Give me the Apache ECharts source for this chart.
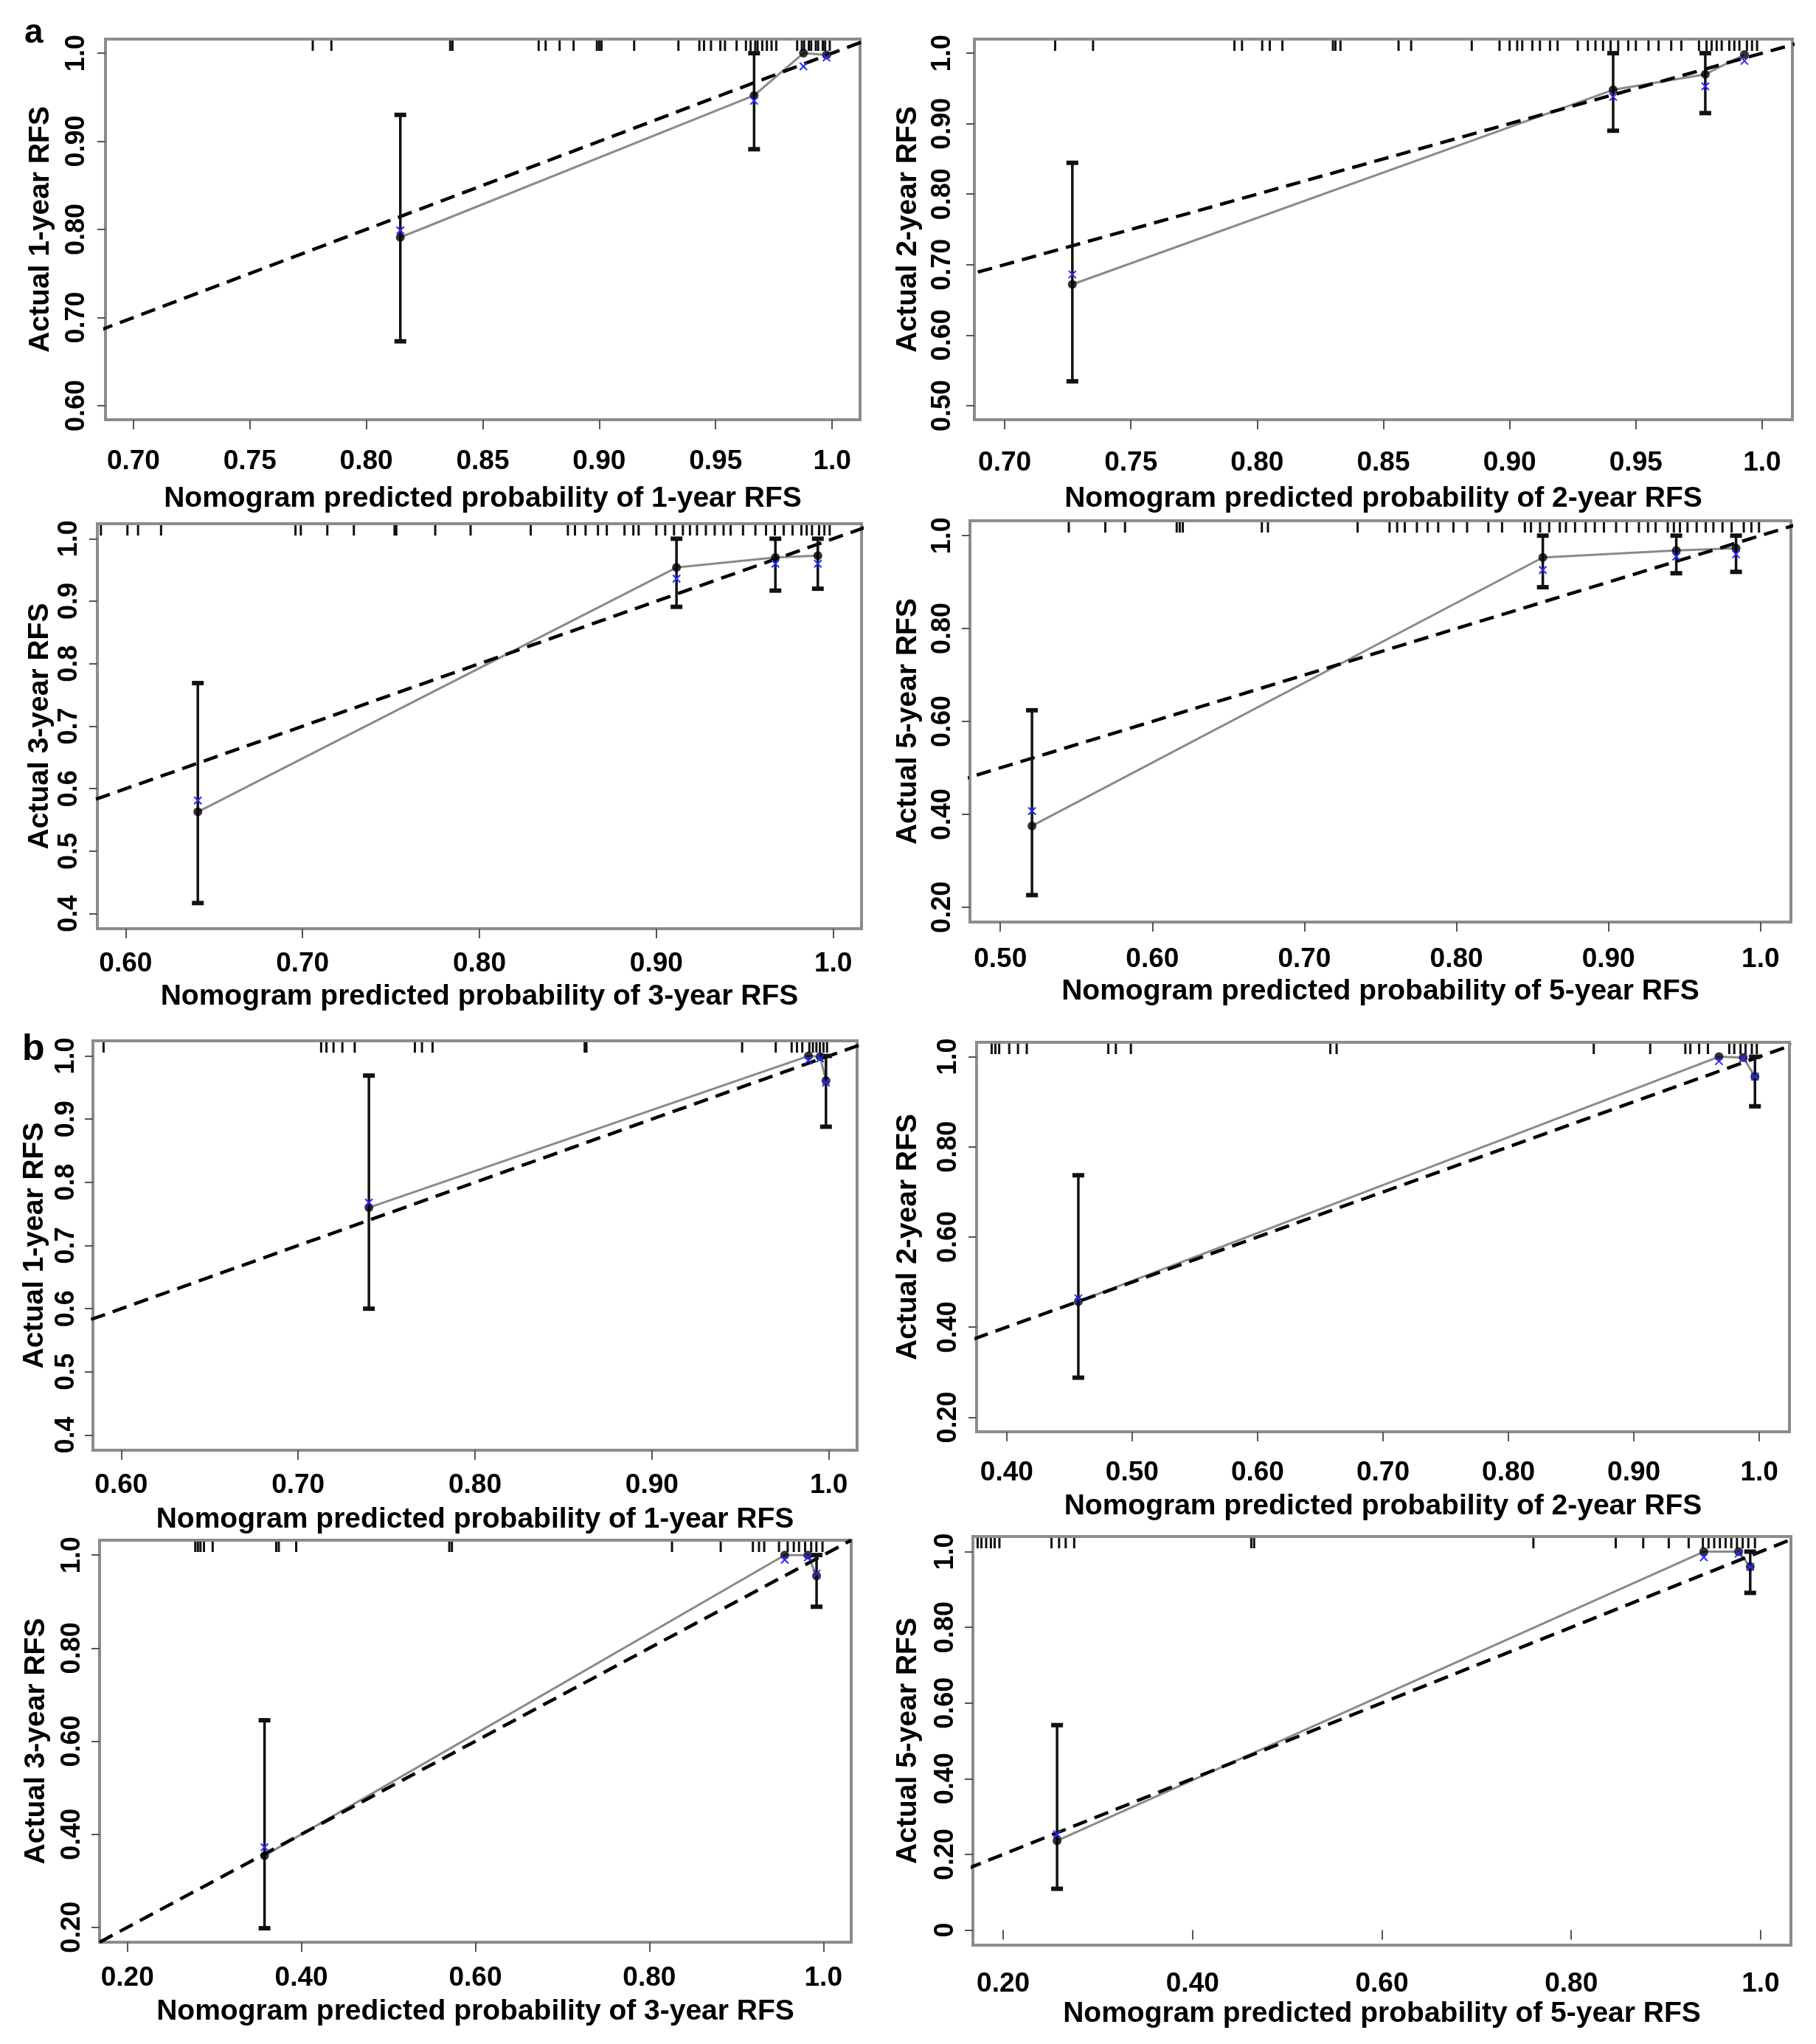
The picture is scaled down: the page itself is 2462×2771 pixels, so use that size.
<!DOCTYPE html>
<html><head><meta charset="utf-8">
<script src="https://cdn.jsdelivr.net/npm/echarts@6/dist/echarts.min.js"></script>
<style>html,body{margin:0;padding:0;background:#fff}#c{width:2462px;height:2771px}</style>
</head><body><div id="c"></div>
<script>
// ---------- DATA ----------
// Panel a1: 1-year RFS (cohort a)
const a1_pred = [0.8146, 0.9665, 0.9877, 0.9976];
const a1_obs  = [0.791, 0.952, 1.000, 0.998];
const a1_lo   = [0.673, 0.891, 1.000, 0.998];
const a1_hi   = [0.930, 1.000, 1.000, 0.998];
const a1_corr = [0.799, 0.946, 0.985, 0.995];
const a1_rug  = [0.777,0.785,0.836,0.837,0.874,0.877,0.883,0.889,0.899,0.900,0.901,0.915,0.934,0.943,0.945,0.948,0.952,0.954,0.959,0.963,0.965,0.967,0.968,0.970,0.972,0.974,0.976,0.985,0.987,0.988,0.990,0.991,0.993,0.994,0.996,0.997,0.999];
const a1_xticks = ["0.70","0.75","0.80","0.85","0.90","0.95","1.0"];
const a1_yticks = ["0.60","0.70","0.80","0.90","1.0"];
const a1_xlim = [0.7, 1.0], a1_ylim = [0.6, 1.0];

// Panel a2: 2-year RFS (cohort a)
const a2_pred = [0.7268, 0.9410, 0.9775, 0.9930];
const a2_obs  = [0.672, 0.948, 0.970, 0.998];
const a2_lo   = [0.5345, 0.890, 0.915, 0.998];
const a2_hi   = [0.8445, 1.000, 1.000, 0.998];
const a2_corr = [0.686, 0.938, 0.953, 0.989];
const a2_rug  = [0.720,0.735,0.791,0.794,0.802,0.805,0.810,0.830,0.831,0.833,0.856,0.861,0.885,0.896,0.900,0.903,0.905,0.909,0.912,0.916,0.919,0.927,0.931,0.934,0.937,0.940,0.943,0.947,0.950,0.955,0.959,0.964,0.968,0.975,0.978,0.980,0.982,0.984,0.987,0.989,0.991,0.994,0.996,0.998];
const a2_xticks = ["0.70","0.75","0.80","0.85","0.90","0.95","1.0"];
const a2_yticks = ["0.50","0.60","0.70","0.80","0.90","1.0"];
const a2_xlim = [0.7, 1.0], a2_ylim = [0.5, 1.0];

// Panel a3: 3-year RFS (cohort a)
const a3_pred = [0.6408, 0.9114, 0.9673, 0.9913];
const a3_obs  = [0.563, 0.954, 0.970, 0.973];
const a3_lo   = [0.417, 0.891, 0.917, 0.920];
const a3_hi   = [0.769, 1.000, 1.000, 1.000];
const a3_corr = [0.581, 0.936, 0.960, 0.960];
const a3_rug  = [0.586,0.601,0.607,0.620,0.696,0.699,0.714,0.729,0.752,0.753,0.775,0.795,0.829,0.850,0.854,0.860,0.867,0.872,0.882,0.887,0.890,0.900,0.905,0.910,0.915,0.919,0.923,0.928,0.933,0.938,0.942,0.949,0.956,0.962,0.967,0.972,0.977,0.982,0.985,0.988,0.992,0.995,0.998];
const a3_xticks = ["0.60","0.70","0.80","0.90","1.0"];
const a3_yticks = ["0.4","0.5","0.6","0.7","0.8","0.9","1.0"];
const a3_xlim = [0.6, 1.0], a3_ylim = [0.4, 1.0];

// Panel a4: 5-year RFS (cohort a)
const a4_pred = [0.5208, 0.8568, 0.9446, 0.9839];
const a4_obs  = [0.375, 0.953, 0.968, 0.973];
const a4_lo   = [0.226, 0.889, 0.919, 0.922];
const a4_hi   = [0.624, 1.000, 1.000, 1.000];
const a4_corr = [0.407, 0.926, 0.955, 0.960];
const a4_rug  = [0.545,0.569,0.582,0.616,0.618,0.620,0.672,0.676,0.735,0.756,0.761,0.766,0.774,0.781,0.788,0.798,0.807,0.821,0.830,0.845,0.849,0.855,0.861,0.868,0.872,0.878,0.885,0.891,0.897,0.905,0.912,0.920,0.926,0.931,0.939,0.943,0.947,0.952,0.958,0.964,0.969,0.975,0.981,0.989,0.994,0.999];
const a4_xticks = ["0.50","0.60","0.70","0.80","0.90","1.0"];
const a4_yticks = ["0.20","0.40","0.60","0.80","1.0"];
const a4_xlim = [0.5, 1.0], a4_ylim = [0.2, 1.0];

// Panel b1: 1-year RFS (cohort b)
const b1_pred = [0.740, 0.9885, 0.9951, 0.9984];
const b1_obs  = [0.760, 1.000, 0.999, 0.961];
const b1_lo   = [0.600, 1.000, 0.999, 0.888];
const b1_hi   = [0.969, 1.000, 0.999, 1.000];
const b1_corr = [0.768, 0.993, 0.996, 0.958];
const b1_rug  = [0.590,0.713,0.716,0.720,0.725,0.732,0.766,0.770,0.776,0.862,0.863,0.951,0.970,0.979,0.982,0.985,0.989,0.991,0.993,0.995,0.997,0.999];
const b1_xticks = ["0.60","0.70","0.80","0.90","1.0"];
const b1_yticks = ["0.4","0.5","0.6","0.7","0.8","0.9","1.0"];
const b1_xlim = [0.6, 1.0], b1_ylim = [0.4, 1.0];

// Panel b2: 2-year RFS (cohort b)
const b2_pred = [0.4571, 0.9678, 0.9872, 0.9965];
const b2_obs  = [0.457, 1.000, 0.998, 0.956];
const b2_lo   = [0.288, 1.000, 0.998, 0.890];
const b2_hi   = [0.737, 1.000, 0.998, 1.000];
const b2_corr = [0.464, 0.990, 0.996, 0.956];
const b2_rug  = [0.388,0.391,0.394,0.402,0.409,0.416,0.481,0.487,0.499,0.658,0.663,0.868,0.913,0.941,0.945,0.952,0.959,0.976,0.980,0.985,0.989,0.994,0.998];
const b2_xticks = ["0.40","0.50","0.60","0.70","0.80","0.90","1.0"];
const b2_yticks = ["0.20","0.40","0.60","0.80","1.0"];
const b2_xlim = [0.4, 1.0], b2_ylim = [0.2, 1.0];

// Panel b3: 3-year RFS (cohort b)
const b3_pred = [0.3576, 0.9556, 0.9822, 0.9922];
const b3_obs  = [0.354, 1.000, 1.000, 0.955];
const b3_lo   = [0.198, 1.000, 1.000, 0.889];
const b3_hi   = [0.645, 1.000, 1.000, 1.000];
const b3_corr = [0.372, 0.990, 0.995, 0.960];
const b3_rug  = [0.278,0.281,0.284,0.288,0.298,0.371,0.374,0.394,0.570,0.573,0.826,0.882,0.919,0.926,0.932,0.949,0.959,0.966,0.972,0.979,0.986,0.992,0.999];
const b3_xticks = ["0.20","0.40","0.60","0.80","1.0"];
const b3_yticks = ["0.20","0.40","0.60","0.80","1.0"];
const b3_xlim = [0.2, 1.0], b3_ylim = [0.2, 1.0];

// Panel b4: 5-year RFS (cohort b)
const b4_pred = [0.2569, 0.940, 0.9768, 0.989];
const b4_obs  = [0.236, 1.000, 1.000, 0.960];
const b4_lo   = [0.109, 1.000, 1.000, 0.891];
const b4_hi   = [0.5415, 1.000, 1.000, 1.000];
const b4_corr = [0.253, 0.985, 0.995, 0.960];
const b4_rug  = [0.173,0.177,0.182,0.187,0.191,0.196,0.251,0.259,0.266,0.275,0.462,0.465,0.760,0.847,0.876,0.903,0.924,0.939,0.945,0.951,0.957,0.963,0.969,0.975,0.981,0.987,0.994];
const b4_xticks = ["0.20","0.40","0.60","0.80","1.0"];
const b4_yticks = ["0","0.20","0.40","0.60","0.80","1.0"];
const b4_xlim = [0.2, 1.0], b4_ylim = [0.0, 1.0];

const xTitles = ["Nomogram predicted probability of 1-year RFS","Nomogram predicted probability of 2-year RFS",
                 "Nomogram predicted probability of 3-year RFS","Nomogram predicted probability of 5-year RFS",
                 "Nomogram predicted probability of 1-year RFS","Nomogram predicted probability of 2-year RFS",
                 "Nomogram predicted probability of 3-year RFS","Nomogram predicted probability of 5-year RFS"];
const yTitles = ["Actual 1-year RFS","Actual 2-year RFS","Actual 3-year RFS","Actual 5-year RFS",
                 "Actual 1-year RFS","Actual 2-year RFS","Actual 3-year RFS","Actual 5-year RFS"];
const panelLetters = ["a","b"];

// ---------- LAYOUT (pixels) ----------
// [left, top, width, height, xLabelCenter, xTitleCenter, yLabelCenter, yTitleCenter]
const layout = [
  [143, 53, 1023, 516, 58, 109, 41, 90],
  [1321, 53, 1109, 516, 60, 109, 45, 92],
  [132, 710, 1036, 549, 49, 94, 40, 80],
  [1315, 706, 1113, 544, 52, 96, 39, 86],
  [126, 1411, 1036, 555, 49, 96, 38, 81],
  [1324, 1413, 1102, 528, 57, 103, 40, 95],
  [135, 2088, 1019, 545, 50, 96, 39, 88],
  [1319, 2083, 1109, 554, 54, 95, 39, 90]
];

const panels = [
  {pred:a1_pred, obs:a1_obs, lo:a1_lo, hi:a1_hi, corr:a1_corr, rug:a1_rug, xt:a1_xticks, yt:a1_yticks, xlim:a1_xlim, ylim:a1_ylim},
  {pred:a2_pred, obs:a2_obs, lo:a2_lo, hi:a2_hi, corr:a2_corr, rug:a2_rug, xt:a2_xticks, yt:a2_yticks, xlim:a2_xlim, ylim:a2_ylim},
  {pred:a3_pred, obs:a3_obs, lo:a3_lo, hi:a3_hi, corr:a3_corr, rug:a3_rug, xt:a3_xticks, yt:a3_yticks, xlim:a3_xlim, ylim:a3_ylim},
  {pred:a4_pred, obs:a4_obs, lo:a4_lo, hi:a4_hi, corr:a4_corr, rug:a4_rug, xt:a4_xticks, yt:a4_yticks, xlim:a4_xlim, ylim:a4_ylim},
  {pred:b1_pred, obs:b1_obs, lo:b1_lo, hi:b1_hi, corr:b1_corr, rug:b1_rug, xt:b1_xticks, yt:b1_yticks, xlim:b1_xlim, ylim:b1_ylim},
  {pred:b2_pred, obs:b2_obs, lo:b2_lo, hi:b2_hi, corr:b2_corr, rug:b2_rug, xt:b2_xticks, yt:b2_yticks, xlim:b2_xlim, ylim:b2_ylim},
  {pred:b3_pred, obs:b3_obs, lo:b3_lo, hi:b3_hi, corr:b3_corr, rug:b3_rug, xt:b3_xticks, yt:b3_yticks, xlim:b3_xlim, ylim:b3_ylim},
  {pred:b4_pred, obs:b4_obs, lo:b4_lo, hi:b4_hi, corr:b4_corr, rug:b4_rug, xt:b4_xticks, yt:b4_yticks, xlim:b4_xlim, ylim:b4_ylim}
];

// ---------- BUILD ----------
const FONT = "'Liberation Sans', Arial, sans-serif";
const ext = lim => { const d = (lim[1]-lim[0])*0.04; return [lim[0]-d, lim[1]+d]; };
const fmt = labels => v => { for (const s of labels) if (Math.abs(parseFloat(s)-v) < 1e-9) return s; return ''; };

const grids=[], xAxes=[], yAxes=[], series=[];
panels.forEach((p, i) => {
  const L = layout[i];
  const xe = ext(p.xlim), ye = ext(p.ylim);
  const xv = p.xt.map(parseFloat), yv = p.yt.map(parseFloat);
  grids.push({left:L[0], top:L[1], width:L[2], height:L[3], show:true, borderColor:'#8c8c8c', borderWidth:4, backgroundColor:'transparent'});
  xAxes.push({
    gridIndex:i, type:'value', min:xe[0], max:xe[1],
    axisLine:{show:false}, splitLine:{show:false},
    axisTick:{show:true, length:13, customValues:xv, lineStyle:{color:'#555', width:2}},
    axisLabel:{customValues:xv, formatter:fmt(p.xt), margin:L[4]-20, fontSize:37, fontWeight:'bold', color:'#000', fontFamily:FONT},
    name:xTitles[i], nameLocation:'middle', nameGap:L[5]-21,
    nameTextStyle:{fontSize:39, fontWeight:'bold', color:'#000', fontFamily:FONT}
  });
  yAxes.push({
    gridIndex:i, type:'value', min:ye[0], max:ye[1],
    axisLine:{show:false}, splitLine:{show:false},
    axisTick:{show:true, length:11, customValues:yv, lineStyle:{color:'#555', width:2}},
    axisLabel:{customValues:yv, formatter:fmt(p.yt), rotate:90, margin:L[6]-20, fontSize:36, fontWeight:'bold', color:'#000', fontFamily:FONT},
    name:yTitles[i], nameLocation:'middle', nameGap:L[7]-22,
    nameTextStyle:{fontSize:39, fontWeight:'bold', color:'#000', fontFamily:FONT}
  });
  // observed calibration line (grey)
  series.push({type:'line', xAxisIndex:i, yAxisIndex:i, data:p.pred.map((x,k)=>[x,p.obs[k]]),
    symbol:'none', lineStyle:{color:'#8a8a8a', width:3}, z:2, silent:true});
  // ideal 45-degree reference line (dashed)
  const lo = Math.min(xe[0], ye[0]), hi = Math.max(xe[1], ye[1]);
  series.push({type:'line', xAxisIndex:i, yAxisIndex:i, data:[[lo,lo],[hi,hi]], clip:true,
    symbol:'none', lineStyle:{color:'#000', width:4.5, type:[20,11]}, z:3, silent:true});
  // rug of predicted probabilities at the top
  series.push({type:'custom', xAxisIndex:i, yAxisIndex:i, data:p.rug.map(x=>[x, ye[1]]), clip:true, z:4, silent:true,
    renderItem:(params, api) => {
      const c = api.coord([api.value(0), api.value(1)]);
      return {type:'line', shape:{x1:c[0], y1:c[1]+2, x2:c[0], y2:c[1]+16}, style:{stroke:'#111', lineWidth:3}};
    }});
  // error bars
  series.push({type:'custom', xAxisIndex:i, yAxisIndex:i, data:p.pred.map((x,k)=>[x,p.lo[k],p.hi[k]]), z:5, silent:true,
    renderItem:(params, api) => {
      const x = api.value(0), l = api.value(1), h = api.value(2);
      const a = api.coord([x, l]), b = api.coord([x, h]);
      const ch = [{type:'line', shape:{x1:a[0], y1:a[1], x2:b[0], y2:b[1]}, style:{stroke:'#111', lineWidth:3.5}}];
      if (h - l > 0.002) {
        ch.push({type:'rect', shape:{x:a[0]-8, y:a[1]-3, width:16, height:6}, style:{fill:'#111'}});
        ch.push({type:'rect', shape:{x:b[0]-8, y:b[1]-3, width:16, height:6}, style:{fill:'#111'}});
      }
      return {type:'group', children:ch};
    }});
  // observed points
  series.push({type:'scatter', xAxisIndex:i, yAxisIndex:i, data:p.pred.map((x,k)=>[x,p.obs[k]]),
    symbol:'circle', symbolSize:12, itemStyle:{color:'#000'}, z:6, silent:true});
  // bias-corrected estimates (blue x)
  series.push({type:'custom', xAxisIndex:i, yAxisIndex:i, data:p.pred.map((x,k)=>[x,p.corr[k]]), z:7, silent:true,
    renderItem:(params, api) => {
      const c = api.coord([api.value(0), api.value(1)]);
      const s = 5;
      return {type:'group', children:[
        {type:'line', shape:{x1:c[0]-s, y1:c[1]-s, x2:c[0]+s, y2:c[1]+s}, style:{stroke:'#2a2aff', lineWidth:2}},
        {type:'line', shape:{x1:c[0]-s, y1:c[1]+s, x2:c[0]+s, y2:c[1]-s}, style:{stroke:'#2a2aff', lineWidth:2}}
      ]};
    }});
});

const chart = echarts.init(document.getElementById('c'), null, {renderer:'canvas'});
chart.setOption({
  animation:false,
  backgroundColor:'#fff',
  grid:grids, xAxis:xAxes, yAxis:yAxes, series:series,
  graphic:[
    {type:'text', left:33, top:22, style:{text:panelLetters[0], font:"bold 46px 'Liberation Sans', Arial, sans-serif", fill:'#000'}},
    {type:'text', left:30, top:1398, style:{text:panelLetters[1], font:"bold 50px 'Liberation Sans', Arial, sans-serif", fill:'#000'}}
  ]
});
</script></body></html>
